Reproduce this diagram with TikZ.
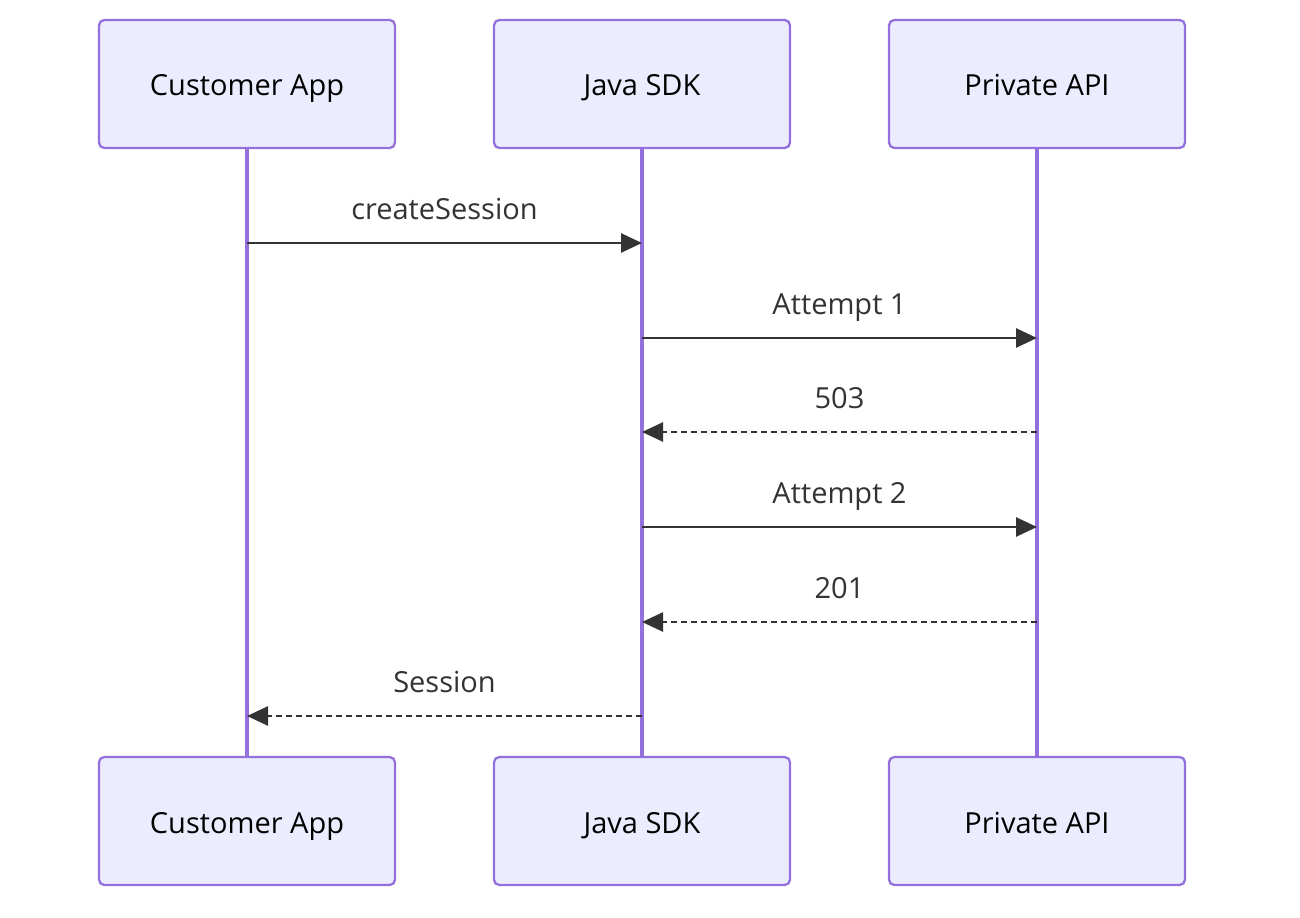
\documentclass[tikz,border=0pt]{standalone}
\usepackage{fontspec}
\setmainfont{Open Sans}
\usetikzlibrary{arrows.meta,positioning}
\definecolor{actorfill}{HTML}{ECECFF}
\definecolor{actorline}{HTML}{9370DB}
\definecolor{msgcol}{HTML}{333333}
\tikzset{every picture/.style={line width=0.75pt}}

\begin{document}
\begin{tikzpicture}[x=0.02cm, y=-0.02cm, >={Triangle[length=0.42cm,width=0.38cm]},
    actor/.style={draw=actorline, fill=actorfill, line width=1.3pt, rounded corners=3pt,
        minimum width=5.92cm, minimum height=2.56cm, text height=0.56cm, text depth=0.08cm,
        font=\fontsize{16.5}{20}\selectfont},
    life/.style={draw=actorline, line width=2.2pt},
    msg/.style={->, draw=msgcol, line width=1.5pt},
    reply/.style={msg, dash pattern=on 0.12cm off 0.08cm},
    lbl/.style={anchor=base, yshift=0.48cm, text=msgcol, font=\fontsize{16.5}{20}\selectfont}]
    \useasboundingbox (0,0) rectangle (1300,918);

    % Teilnehmer oben
    \node[actor] (appT) at (247,84) {Customer App};
    \node[actor] (sdkT) at (642,84) {Java SDK};
    \node[actor] (apiT) at (1037,84) {Private API};

    % Teilnehmer unten
    \node[actor] (appB) at (247,821) {Customer App};
    \node[actor] (sdkB) at (642,821) {Java SDK};
    \node[actor] (apiB) at (1037,821) {Private API};

    % Lebenslinien
    \draw[life] (appT) -- (appB);
    \draw[life] (sdkT) -- (sdkB);
    \draw[life] (apiT) -- (apiB);

    % Nachrichtenzeilen
    \coordinate (m1) at (0,243);
    \coordinate (m2) at (0,338);
    \coordinate (m3) at (0,432);
    \coordinate (m4) at (0,527);
    \coordinate (m5) at (0,622);
    \coordinate (m6) at (0,716);

    % Nachrichten
    \draw[msg] (appT |- m1) -- (sdkT |- m1) node[midway, lbl] {createSession};
    \draw[msg] (sdkT |- m2) -- (apiT |- m2) node[midway, lbl] {Attempt 1};
    \draw[reply] (apiT |- m3) -- (sdkT |- m3) node[midway, lbl] {503};
    \draw[msg] (sdkT |- m4) -- (apiT |- m4) node[midway, lbl] {Attempt 2};
    \draw[reply] (apiT |- m5) -- (sdkT |- m5) node[midway, lbl] {201};
    \draw[reply] (sdkT |- m6) -- (appT |- m6) node[midway, lbl] {Session};
\end{tikzpicture}
\end{document}
